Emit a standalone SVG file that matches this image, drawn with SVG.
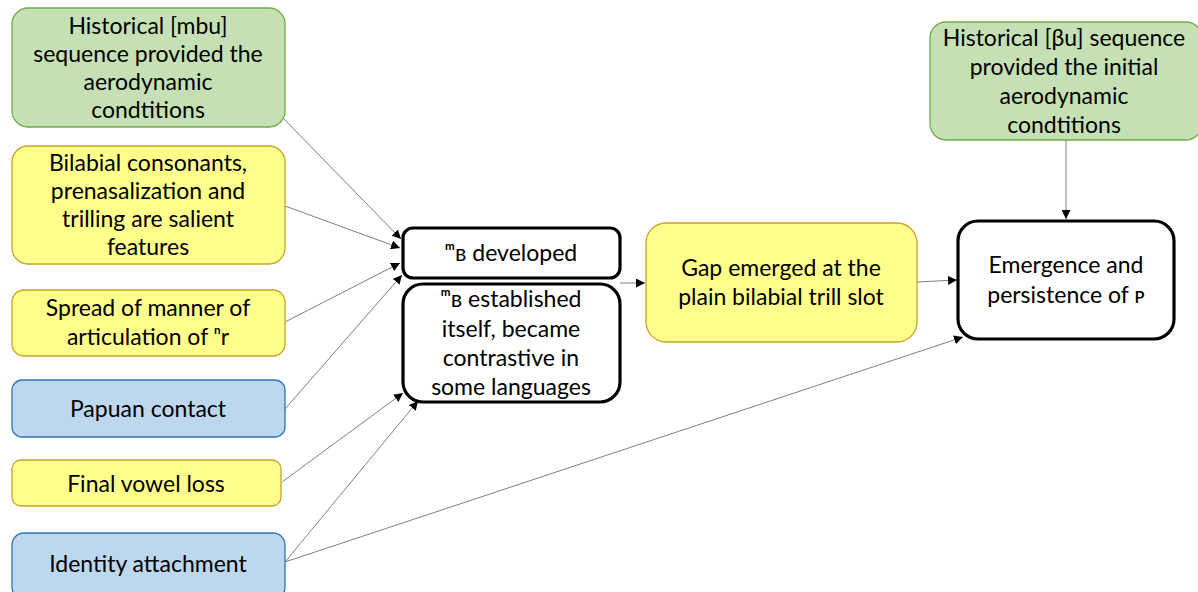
<svg xmlns="http://www.w3.org/2000/svg" width="1198" height="592" viewBox="0 0 1198 592">
<style>
text{font-family:Lato,"Noto Sans","DejaVu Sans",sans-serif;font-size:23px;fill:#000;text-anchor:middle}
.g{fill:#C5E0B4;stroke:#70AD47;stroke-width:1.3}
.y{fill:#FFFF8C;stroke:#C9A227;stroke-width:1.3}
.b{fill:#BDD7EE;stroke:#2E75B6;stroke-width:1.3}
.k{fill:#fff;stroke:#000;stroke-width:3.2}
.c{stroke:#808080;stroke-width:1;fill:none;marker-end:url(#a)}
</style>
<defs>
<marker id="a" viewBox="0 0 10 10" refX="10" refY="5" markerWidth="9" markerHeight="9" markerUnits="userSpaceOnUse" orient="auto">
<path d="M0,0L10,5L0,10z" fill="#000"/>
</marker>
</defs>
<g id="connectors">
<line class="c" x1="283" y1="118" x2="401" y2="239"/>
<line class="c" x1="285" y1="206" x2="400" y2="248"/>
<line class="c" x1="285" y1="322" x2="400" y2="263"/>
<line class="c" x1="285" y1="409" x2="402" y2="275"/>
<line class="c" x1="282" y1="482" x2="403" y2="393"/>
<line class="c" x1="285" y1="562" x2="418" y2="401"/>
<line class="c" x1="285" y1="562" x2="963" y2="337"/>
<line class="c" x1="620" y1="283" x2="645" y2="283"/>
<line class="c" x1="917" y1="282" x2="957" y2="280"/>
<line class="c" x1="1066" y1="140" x2="1066" y2="219"/>
</g>
<g id="n1"><rect class="g" x="12" y="8" width="273" height="119" rx="16"/>
<text x="148" y="34">Historical [mbu]</text><text x="148" y="62">sequence provided the</text><text x="148" y="90">aerodynamic</text><text x="148" y="118">condtitions</text></g>
<g id="n2"><rect class="y" x="12" y="146" width="273" height="118" rx="16"/>
<text x="148" y="171">Bilabial consonants,</text><text x="148" y="199">prenasalization and</text><text x="148" y="227">trilling are salient</text><text x="148" y="255">features</text></g>
<g id="n3"><rect class="y" x="12" y="290" width="273" height="66" rx="12"/>
<text x="148" y="316">Spread of manner of</text><text x="148" y="345">articulation of ⁿr</text></g>
<g id="n4"><rect class="b" x="12" y="380" width="273" height="57" rx="10"/>
<text x="148" y="417">Papuan contact</text></g>
<g id="n5"><rect class="y" x="12" y="460" width="269" height="46" rx="9"/>
<text x="146" y="492">Final vowel loss</text></g>
<g id="n6"><rect class="b" x="12" y="533" width="273" height="66" rx="12"/>
<text x="148" y="572">Identity attachment</text></g>
<g id="n7"><rect class="k" x="403" y="228" width="217" height="50" rx="10"/>
<text x="511" y="261">ᵐʙ developed</text></g>
<g id="n8"><rect class="k" x="403" y="284" width="217" height="118" rx="20"/>
<text x="511" y="307">ᵐʙ established</text><text x="511" y="337">itself, became</text><text x="511" y="366">contrastive in</text><text x="511" y="395">some languages</text></g>
<g id="n9"><rect class="y" x="646" y="223" width="271" height="119" rx="20"/>
<text x="781" y="276">Gap emerged at the</text><text x="781" y="305">plain bilabial trill slot</text></g>
<g id="n10"><rect class="k" x="958" y="221" width="216" height="118" rx="20"/>
<text x="1066" y="273">Emergence and</text><text x="1066" y="303">persistence of ᴘ</text></g>
<g id="n11"><rect class="g" x="930" y="22" width="272" height="118" rx="16"/>
<text x="1064" y="46">Historical [βu] sequence</text><text x="1064" y="75">provided the initial</text><text x="1064" y="104">aerodynamic</text><text x="1064" y="133">condtitions</text></g>
</svg>
